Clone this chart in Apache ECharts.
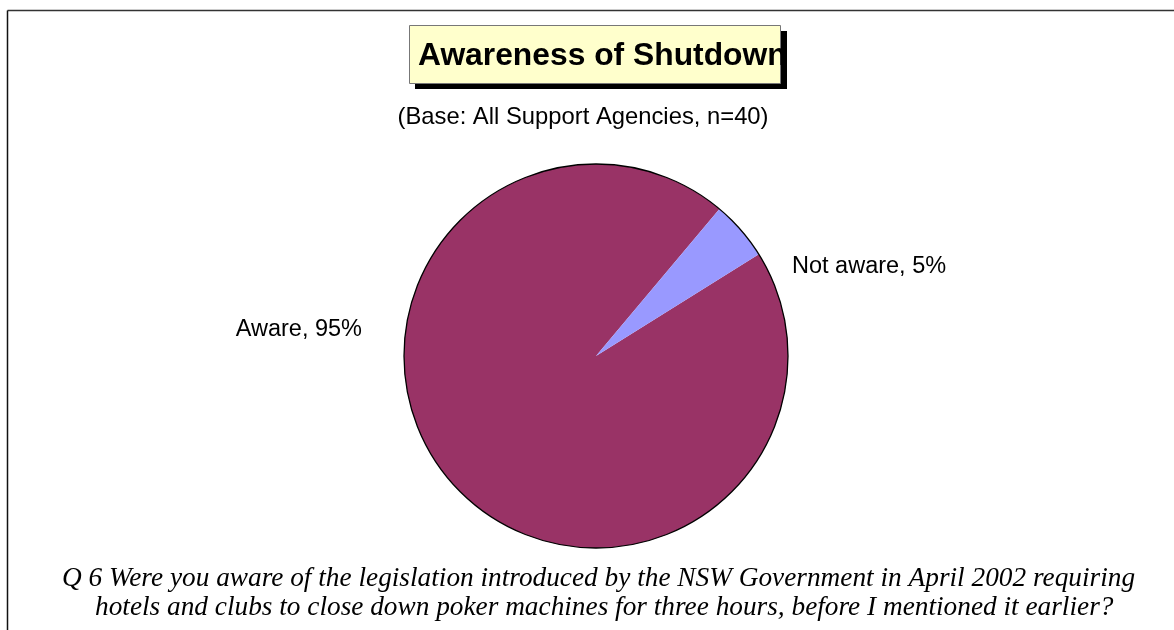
<!DOCTYPE html>
<html>
<head>
<meta charset="utf-8">
<style>
  html, body { margin: 0; padding: 0; background: #fff; }
  #chart { width: 1174px; height: 630px; }
</style>
<script src="https://cdn.jsdelivr.net/npm/echarts@6/dist/echarts.min.js"></script>
</head>
<body>
<div id="chart"></div>
<script>
// Survey responses (percent of support agencies)
const categories = ['Aware', 'Not aware'];
const values = [95, 5];
const sliceColors = ['#993366', '#9999FF'];

const titleText = 'Awareness of Shutdown';
const subtitleText = '(Base: All Support Agencies, n=40)';
const questionLines = [
  'Q 6 Were you aware of the legislation introduced by the NSW Government in April 2002 requiring',
  'hotels and clubs to close down poker machines for three hours, before I mentioned it earlier?'
];

const chart = echarts.init(document.getElementById('chart'), null, { renderer: 'canvas' });

const sans = '"Liberation Sans", Arial, sans-serif';
const serif = '"Liberation Serif", "Times New Roman", serif';

const pieData = categories.map((name, i) => ({
  name: name,
  value: values[i],
  itemStyle: { color: sliceColors[i] }
}));

chart.setOption({
  animation: false,
  backgroundColor: '#ffffff',
  graphic: [
    // page frame (top and left rules)
    { type: 'line', shape: { x1: 7.5, y1: 10.5, x2: 1174, y2: 10.5 }, style: { stroke: '#333', lineWidth: 1.5 } },
    { type: 'line', shape: { x1: 7.5, y1: 10.5, x2: 7.5, y2: 630 }, style: { stroke: '#111', lineWidth: 1.5 } },
    // title box with drop shadow
    { type: 'rect', shape: { x: 415, y: 31, width: 372, height: 58 }, style: { fill: '#000' } },
    { type: 'rect', shape: { x: 409.5, y: 25.5, width: 371, height: 58 }, style: { fill: '#FFFFCC', stroke: '#777', lineWidth: 1 } },
    { type: 'text', x: 418, y: 56, z: 5, style: { text: titleText, font: 'bold 31.8px ' + sans, fill: '#000', align: 'left', verticalAlign: 'middle' } },
    { type: 'text', x: 583, y: 117, style: { text: subtitleText, font: '23.8px ' + sans, fill: '#000', align: 'center', verticalAlign: 'middle' } },
    { type: 'text', x: 62, y: 579, style: { text: questionLines[0], font: 'italic 27.3px ' + serif, fill: '#000', align: 'left', verticalAlign: 'middle' } },
    { type: 'text', x: 95, y: 608, style: { text: questionLines[1], font: 'italic 27.3px ' + serif, fill: '#000', align: 'left', verticalAlign: 'middle' } }
  ],
  series: [
    {
      type: 'pie',
      center: [596, 356],
      radius: 192,
      startAngle: 32,
      clockwise: true,
      silent: true,
      data: pieData,
      itemStyle: { borderWidth: 0 },
      label: {
        show: true,
        position: 'outside',
        formatter: p => p.name + ', ' + p.value + '%',
        fontFamily: sans,
        fontSize: 23.5,
        color: '#000'
      },
      labelLine: { show: false },
      labelLayout: function (params) {
        if (params.dataIndex === 0) {
          return { x: 362, y: 330, align: 'right', verticalAlign: 'middle' };
        }
        return { x: 792, y: 267, align: 'left', verticalAlign: 'middle' };
      }
    },
    {
      // outer outline of the pie
      type: 'pie',
      center: [596, 356],
      radius: 192,
      silent: true,
      z: 3,
      data: [{ value: 1, name: 'outline' }],
      itemStyle: { color: 'rgba(0,0,0,0)', borderColor: '#000', borderWidth: 1.3 },
      label: { show: false },
      labelLine: { show: false }
    }
  ]
});
</script>
</body>
</html>
